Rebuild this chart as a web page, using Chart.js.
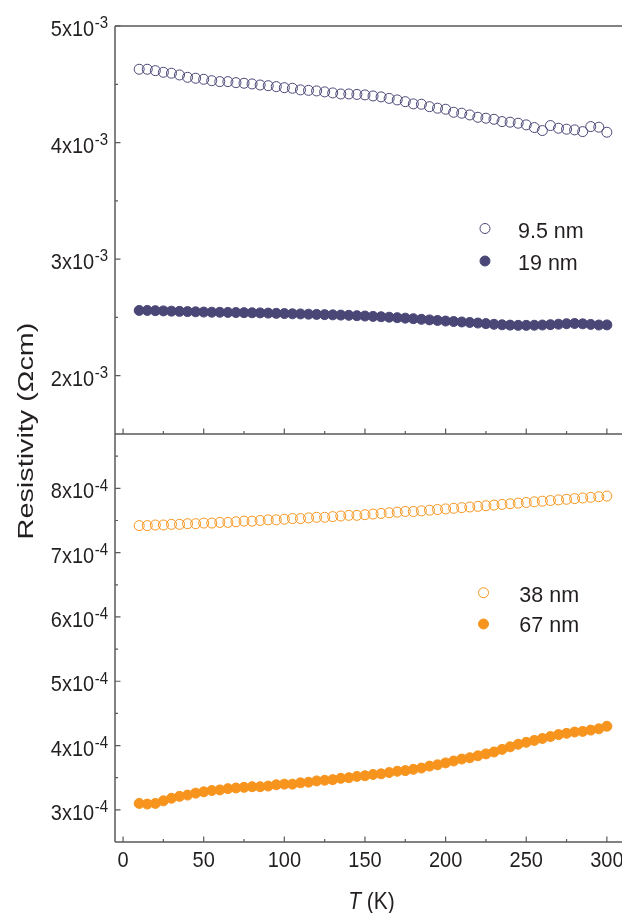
<!DOCTYPE html>
<html><head><meta charset="utf-8">
<script src="https://cdn.jsdelivr.net/npm/chart.js@4/dist/chart.umd.min.js"></script>
<style>
html,body{margin:0;padding:0;overflow:hidden;background:#fff;}
#wrap{position:relative;width:624px;height:913px;}
</style></head><body>
<div id="wrap"><canvas id="c" width="624" height="913"></canvas></div>
<script>
// ---- data ----
const temperatures = [10,15,20,25,30,35,40,45,50,55,60,65,70,75,80,85,90,95,100,105,110,115,120,125,130,135,140,145,150,155,160,165,170,175,180,185,190,195,200,205,210,215,220,225,230,235,240,245,250,255,260,265,270,275,280,285,290,295,300];
// top panel, in units of 1e-3 Ohm cm
const rho_9p5nm = [4.629,4.629,4.617,4.603,4.595,4.580,4.560,4.552,4.543,4.531,4.523,4.523,4.514,4.509,4.503,4.494,4.488,4.480,4.471,4.466,4.452,4.448,4.443,4.435,4.426,4.417,4.417,4.413,4.409,4.400,4.392,4.379,4.366,4.351,4.332,4.329,4.308,4.295,4.286,4.260,4.252,4.237,4.217,4.209,4.200,4.180,4.175,4.166,4.152,4.129,4.103,4.146,4.123,4.115,4.109,4.094,4.137,4.132,4.089];
const rho_19nm = [2.560,2.560,2.558,2.556,2.554,2.552,2.550,2.548,2.546,2.545,2.544,2.543,2.542,2.541,2.540,2.539,2.537,2.535,2.533,2.531,2.530,2.528,2.526,2.524,2.522,2.520,2.518,2.515,2.512,2.509,2.506,2.502,2.498,2.494,2.489,2.484,2.479,2.474,2.469,2.465,2.461,2.457,2.452,2.447,2.441,2.437,2.434,2.432,2.432,2.433,2.435,2.438,2.442,2.446,2.448,2.445,2.440,2.435,2.436];
// bottom panel, in units of 1e-4 Ohm cm
const rho_38nm = [7.42,7.42,7.43,7.43,7.44,7.44,7.45,7.45,7.46,7.46,7.47,7.47,7.48,7.49,7.49,7.50,7.51,7.51,7.52,7.53,7.53,7.54,7.55,7.55,7.56,7.57,7.58,7.58,7.59,7.60,7.61,7.62,7.63,7.64,7.64,7.65,7.66,7.67,7.68,7.69,7.70,7.71,7.72,7.73,7.74,7.75,7.76,7.77,7.78,7.79,7.80,7.81,7.82,7.83,7.84,7.85,7.86,7.87,7.88];
const rho_67nm = [3.10,3.09,3.10,3.14,3.18,3.21,3.23,3.26,3.28,3.30,3.31,3.33,3.34,3.35,3.36,3.36,3.37,3.39,3.40,3.40,3.42,3.43,3.45,3.46,3.47,3.49,3.50,3.52,3.53,3.55,3.56,3.58,3.60,3.61,3.63,3.65,3.68,3.70,3.73,3.76,3.79,3.81,3.84,3.87,3.90,3.94,3.98,4.02,4.05,4.08,4.11,4.14,4.17,4.19,4.21,4.22,4.24,4.26,4.30];
const topUnit = 1e-3, botUnit = 1e-4;
const seriesLabels = ['9.5 nm','19 nm','38 nm','67 nm'];
const xMajorTicks = [0,50,100,150,200,250,300];
const xMinorTicks = [25,75,125,175,225,275];
const topMajorTicks = [2,3,4,5];      // x1e-3
const topMinorTicks = [2.5,3.5,4.5];
const botMajorTicks = [3,4,5,6,7,8];  // x1e-4
const botMinorTicks = [3.5,4.5,5.5,6.5,7.5,8.5];
const topExp = '-3', botExp = '-4';
const topRange = [1.5, 5];      // x1e-3
const botRange = [2.5, 8.845];  // x1e-4
const xTitleItalic = 'T', xTitleRest = ' (K)';
const yTitle = 'Resistivity (\u03A9cm)';

// ---- style ----
const PURPLE = '#4a4777';
const ORANGE = '#f7941d';
const INK = '#231f20';
const AXIS = '#5a5a5a';
const FONT = '"Liberation Sans", Arial, Helvetica, sans-serif';

function pts(vals, unit){ return temperatures.map((t,i)=>({x:t, y:vals[i]*unit})); }

function txt(ctx, s, x, y, size, o){
  o = o || {};
  ctx.save();
  ctx.translate(x, y);
  if (o.rot) ctx.rotate(o.rot);
  ctx.scale(o.sx || 1, o.sy || 1);
  ctx.font = (o.italic ? 'italic ' : '') + size + 'px ' + FONT;
  ctx.textAlign = o.align || 'left';
  ctx.textBaseline = 'alphabetic';
  ctx.fillStyle = INK;
  ctx.fillText(s, 0, 0);
  ctx.restore();
}
function measure(ctx, s, size, italic){
  ctx.save();
  ctx.font = (italic ? 'italic ' : '') + size + 'px ' + FONT;
  const w = ctx.measureText(s).width;
  ctx.restore();
  return w;
}

const decor = {
  id: 'decor',
  afterDraw(chart){
    const ctx = chart.ctx;
    const xs = chart.scales.x, yt = chart.scales.yTop, yb = chart.scales.yBot;
    const a = chart.chartArea;
    const yDiv = yt.getPixelForValue(topRange[0]*topUnit);
    ctx.save();
    ctx.strokeStyle = AXIS;
    ctx.lineWidth = 1.5;
    ctx.beginPath();
    ctx.moveTo(a.left, a.top); ctx.lineTo(a.right, a.top);
    ctx.moveTo(a.left, a.bottom); ctx.lineTo(a.right, a.bottom);
    ctx.moveTo(a.left, yDiv); ctx.lineTo(a.right, yDiv);
    ctx.moveTo(a.left, a.top); ctx.lineTo(a.left, a.bottom);
    ctx.moveTo(a.right, a.top); ctx.lineTo(a.right, a.bottom);
    ctx.stroke();
    // x ticks (inward, up) on bottom axis and divider
    ctx.lineWidth = 1.2;
    ctx.beginPath();
    [a.bottom, yDiv].forEach(yb0=>{
      xMajorTicks.forEach(v=>{ const px = xs.getPixelForValue(v); ctx.moveTo(px, yb0); ctx.lineTo(px, yb0-5.5); });
      xMinorTicks.forEach(v=>{ const px = xs.getPixelForValue(v); ctx.moveTo(px, yb0); ctx.lineTo(px, yb0-3); });
    });
    // y ticks (inward, right)
    topMajorTicks.forEach(v=>{ const py = yt.getPixelForValue(v*topUnit); ctx.moveTo(a.left, py); ctx.lineTo(a.left+5.5, py); });
    topMinorTicks.forEach(v=>{ const py = yt.getPixelForValue(v*topUnit); ctx.moveTo(a.left, py); ctx.lineTo(a.left+3, py); });
    botMajorTicks.forEach(v=>{ const py = yb.getPixelForValue(v*botUnit); ctx.moveTo(a.left, py); ctx.lineTo(a.left+5.5, py); });
    botMinorTicks.forEach(v=>{ const py = yb.getPixelForValue(v*botUnit); ctx.moveTo(a.left, py); ctx.lineTo(a.left+3, py); });
    ctx.stroke();
    ctx.restore();

    // x tick labels
    xMajorTicks.forEach(v=>{
      txt(ctx, String(v), xs.getPixelForValue(v), a.bottom + 24.5, 20, {align:'center', sy:1.08});
    });
    // y tick labels with superscript exponents
    const labelRight = a.left - 7;
    function yLabel(mant, exp, py){
      const ew = measure(ctx, exp, 15);
      txt(ctx, exp, labelRight, py + 2.3, 15, {align:'right', sy:1.08});
      txt(ctx, mant + 'x10', labelRight - ew - 0.5, py + 10, 20, {align:'right', sy:1.08});
    }
    topMajorTicks.forEach(v=> yLabel(String(v), topExp, yt.getPixelForValue(v*topUnit)));
    botMajorTicks.forEach(v=> yLabel(String(v), botExp, yb.getPixelForValue(v*botUnit)));

    // x title
    const cx = (a.left + a.right)/2 + 2.5;
    const wT = measure(ctx, xTitleItalic, 21, true);
    const wR = measure(ctx, xTitleRest, 21, false);
    const x0 = cx - (wT + wR)/2;
    txt(ctx, xTitleItalic, x0, 909, 21, {italic:true, sy:1.15});
    txt(ctx, xTitleRest, x0 + wT, 909, 21, {sy:1.15});
    // y title
    txt(ctx, yTitle, 33, (a.top + a.bottom)/2 - 3, 22, {align:'center', rot:-Math.PI/2, sx:1.31});

    // legends
    const ds = chart.data.datasets;
    const leg = [
      {i:0, mx:485, my:228.5, tx:518, ty:237.8},
      {i:1, mx:485, my:261, tx:518, ty:269.8},
      {i:2, mx:483.5, my:592.7, tx:519.3, ty:602.1},
      {i:3, mx:483.5, my:624, tx:519.3, ty:632.1}
    ];
    leg.forEach(l=>{
      const d = ds[l.i];
      ctx.save();
      ctx.beginPath();
      ctx.arc(l.mx, l.my, 5, 0, Math.PI*2);
      ctx.fillStyle = d.backgroundColor;
      ctx.fill();
      ctx.lineWidth = 1;
      ctx.strokeStyle = d.borderColor;
      ctx.stroke();
      ctx.restore();
      txt(ctx, d.label, l.tx, l.ty, 21.5, {sy:1.05});
    });
  }
};

const common = {showLine:false, pointStyle:'circle', pointRadius:5, pointHoverRadius:5, borderWidth:1, pointBorderWidth:1};
new Chart(document.getElementById('c'), {
  type:'scatter',
  data:{datasets:[
    Object.assign({label:seriesLabels[0], data:pts(rho_9p5nm, topUnit), yAxisID:'yTop', borderColor:PURPLE, backgroundColor:'rgba(0,0,0,0)'}, common),
    Object.assign({label:seriesLabels[1], data:pts(rho_19nm, topUnit), yAxisID:'yTop', borderColor:PURPLE, backgroundColor:PURPLE}, common),
    Object.assign({label:seriesLabels[2], data:pts(rho_38nm, botUnit), yAxisID:'yBot', borderColor:ORANGE, backgroundColor:'rgba(0,0,0,0)'}, common),
    Object.assign({label:seriesLabels[3], data:pts(rho_67nm, botUnit), yAxisID:'yBot', borderColor:ORANGE, backgroundColor:ORANGE}, common)
  ]},
  options:{
    responsive:false, animation:false, devicePixelRatio:1, events:[],
    layout:{autoPadding:false, padding:{left:115, top:26, right:1, bottom:71}},
    plugins:{legend:{display:false}, tooltip:{enabled:false}},
    scales:{
      x:{type:'linear', min:-5, max:310, display:false},
      // each axis spans the whole plot height; its panel occupies one half
      yTop:{type:'linear', min:(topRange[0]-(topRange[1]-topRange[0]))*topUnit, max:topRange[1]*topUnit, display:false},
      yBot:{type:'linear', min:botRange[0]*botUnit, max:(botRange[1]+(botRange[1]-botRange[0]))*botUnit, display:false}
    }
  },
  plugins:[decor]
});
</script>
</body></html>
